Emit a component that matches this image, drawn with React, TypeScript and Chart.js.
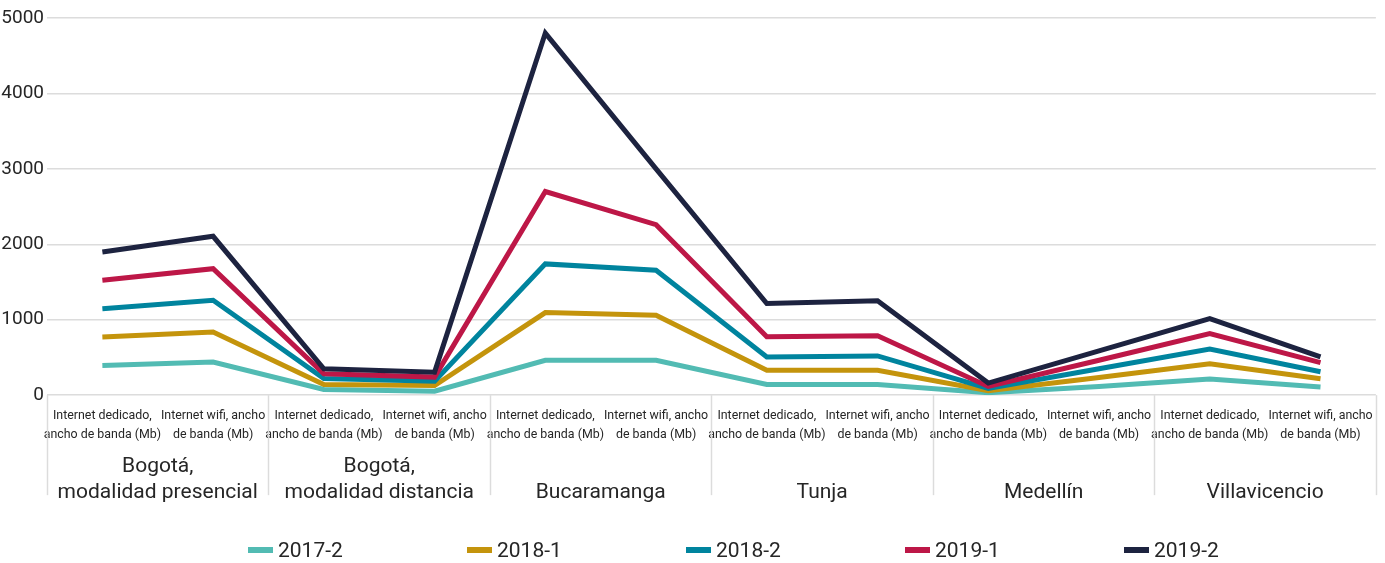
import React, { useEffect, useRef } from "react";
import { Chart, registerables } from "chart.js";

Chart.register(...registerables);

const groups: (string | string[])[] = [
  ["Bogotá,", "modalidad presencial"],
  ["Bogotá,", "modalidad distancia"],
  ["", "Bucaramanga"],
  ["", "Tunja"],
  ["", "Medellín"],
  ["", "Villavicencio"],
];
const subLabels: string[][] = [
  ["Internet dedicado,", "ancho de banda (Mb)"],
  ["Internet wifi, ancho", "de banda (Mb)"],
];
const seriesNames = ["2017-2", "2018-1", "2018-2", "2019-1", "2019-2"];
const seriesColors = ["#52BBB3", "#C4940C", "#00849E", "#BD1747", "#1D2340"];

const s2017_2 = [394, 438, 75, 53, 463, 463, 142, 142, 31, 115, 215, 107];
const s2018_1 = [770, 836, 142, 128, 1095, 1060, 329, 329, 58, 235, 415, 218];
const s2018_2 = [1146, 1257, 221, 186, 1740, 1655, 507, 520, 90, 350, 612, 311];
const s2019_1 = [1522, 1677, 283, 239, 2700, 2260, 773, 787, 115, 462, 815, 431];
const s2019_2 = [1898, 2106, 350, 305, 4800, 3000, 1215, 1250, 160, 588, 1015, 507];
const seriesValues = [s2017_2, s2018_1, s2018_2, s2019_1, s2019_2];

const yMin = 0;
const yMax = 5000;
const yStep = 1000;

const TEXT = "#262626";
const GRID = "#dcdcdc";

const separatorPlugin = {
  id: "groupSeparators",
  afterDraw(chart: any) {
    const x = chart.scales.x;
    const ctx = chart.ctx;
    const n = groups.length;
    ctx.save();
    ctx.strokeStyle = GRID;
    ctx.lineWidth = 1.5;
    for (let k = 0; k <= n; k++) {
      const px = Math.round(x.left + (k * (x.right - x.left)) / n) + 0.5;
      ctx.beginPath();
      ctx.moveTo(px, chart.chartArea.bottom);
      ctx.lineTo(px, chart.chartArea.bottom + 100);
      ctx.stroke();
    }
    ctx.restore();
  },
};

export default function App() {
  const ref = useRef<HTMLCanvasElement>(null);

  useEffect(() => {
    if (!ref.current) return;
    const xLabels: string[][] = [];
    groups.forEach(() => subLabels.forEach((s) => xLabels.push(s)));
    const chart = new Chart(ref.current, {
      type: "line",
      data: {
        labels: xLabels as any,
        datasets: seriesNames.map((name, i) => ({
          label: name,
          data: seriesValues[i],
          borderColor: seriesColors[i],
          backgroundColor: seriesColors[i],
          borderWidth: 5,
          pointRadius: 0,
          tension: 0,
          borderJoinStyle: "miter" as const,
          xAxisID: "x",
          yAxisID: "y",
          order: seriesNames.length - i,
        })),
      },
      options: {
        responsive: false,
        animation: false,
        layout: { padding: { top: 18, right: 9, bottom: 59, left: 0 } },
        plugins: {
          legend: { display: false },
          tooltip: { enabled: false },
        },
        scales: {
          x: {
            type: "category",
            offset: true,
            grid: { display: false, drawTicks: false },
            border: { display: false },
            ticks: {
              autoSkip: false,
              maxRotation: 0,
              minRotation: 0,
              padding: 12,
              color: TEXT,
              font: { family: "Roboto, 'Noto Sans', sans-serif", size: 12.4, lineHeight: 1.47 },
            },
          },
          x2: {
            type: "category",
            labels: groups as any,
            offset: true,
            position: "bottom",
            grid: { display: false, drawTicks: false },
            border: { display: false },
            ticks: {
              autoSkip: false,
              maxRotation: 0,
              minRotation: 0,
              padding: -1,
              color: TEXT,
              font: { family: "Roboto, 'Noto Sans', sans-serif", size: 21, lineHeight: 1.2 },
            },
          },
          y: {
            min: yMin,
            max: yMax,
            afterFit: (scale: any) => {
              scale.width = 47;
            },
            grid: { color: GRID, lineWidth: 1.5, drawTicks: false },
            border: { display: false },
            ticks: {
              stepSize: yStep,
              padding: 3,
              color: TEXT,
              callback: (v: any) => String(v),
              font: { family: "Roboto, 'Noto Sans', sans-serif", size: 19 },
            },
          },
        },
      },
      plugins: [separatorPlugin],
    });
    return () => chart.destroy();
  }, []);

  return (
    <div
      style={{
        position: "fixed",
        left: 0,
        top: 0,
        width: 1385,
        height: 563,
        background: "#fff",
        overflow: "hidden",
      }}
    >
      <canvas ref={ref} width={1385} height={563} style={{ display: "block" }} />
      <div
        style={{
          position: "absolute",
          left: 248,
          top: 537,
          display: "flex",
          fontFamily: "Roboto, 'Noto Sans', sans-serif",
          fontSize: 21,
          color: TEXT,
          lineHeight: "26px",
        }}
      >
        {seriesNames.map((name, i) => (
          <div key={name} style={{ width: 219, display: "flex", alignItems: "center" }}>
            <span
              style={{
                display: "inline-block",
                width: 25,
                height: 6,
                background: seriesColors[i],
                marginRight: 5,
              }}
            />
            <span>{name}</span>
          </div>
        ))}
      </div>
    </div>
  );
}
